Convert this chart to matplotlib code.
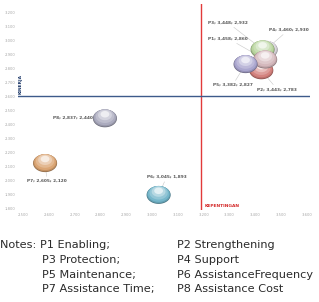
import matplotlib
matplotlib.use("Agg")
import matplotlib.pyplot as plt
import numpy as np
from matplotlib.transforms import ScaledTranslation
from matplotlib.colors import to_rgb

# ---- data ----
names = ["P1", "P2", "P3", "P4", "P5", "P6", "P7", "P8"]
kepentingan = [3.458, 3.443, 3.448, 3.460, 3.382, 3.045, 2.605, 2.837]
kinerja = [2.860, 2.783, 2.932, 2.930, 2.827, 1.893, 2.120, 2.440]
xticks = [2.5, 2.6, 2.7, 2.8, 2.9, 3.0, 3.1, 3.2, 3.3, 3.4, 3.5, 3.6]
yticks = [1.8, 1.9, 2.0, 2.1, 2.2, 2.3, 2.4, 2.5, 2.6, 2.7, 2.8, 2.9, 3.0, 3.1, 3.2]
notes_col1 = ["Notes: P1 Enabling;", "P3 Protection;", "P5 Maintenance;", "P7 Assistance Time;"]
notes_col2 = ["P2 Strengthening", "P4 Support", "P6 AssistanceFrequency", "P8 Assistance Cost"]

# ---- style ----
colors = {"P1": "#d2b4b8", "P2": "#d27c78", "P3": "#b5d39a", "P4": "#d9d4dc",
          "P5": "#a7a2cc", "P6": "#6fb3c8", "P7": "#d9a16e", "P8": "#a8a8bc"}
# label offsets in pixels (dx, dy) and alignment
lab_off = {"P1": (-17, 21, "right"), "P2": (16, -19, "center"), "P3": (-15, 27, "right"),
           "P4": (3, 20, "left"), "P5": (-13, -21, "center"), "P6": (8, 18, "center"),
           "P7": (2, -18, "center"), "P8": (-12, 1, "right")}
draw_order = ["P2", "P4", "P3", "P1", "P5", "P6", "P7", "P8"]

W, H = 319, 302
fig = plt.figure(figsize=(W / 100, H / 100), dpi=100)
ax_l, ax_r, ax_t, ax_b = 18, 310, 4, 210
ax = fig.add_axes([ax_l / W, 1 - ax_b / H, (ax_r - ax_l) / W, (ax_b - ax_t) / H])
xppu = 258.0
yppu = 140.0
ax.set_xlim(2.5, 2.5 + (ax_r - ax_l) / xppu)
ax.set_ylim(3.2 + 8 / yppu - (ax_b - ax_t) / yppu, 3.2 + 8 / yppu)
for s in ax.spines.values():
    s.set_visible(False)
ax.set_xticks(xticks)
ax.set_yticks(yticks)
ax.set_xticklabels([f"{v:,.3f}".replace(".", ",") for v in xticks])
ax.set_yticklabels([f"{v:,.3f}".replace(".", ",") for v in yticks])
ax.tick_params(length=0, labelsize=2.7, labelcolor="#a8a8a8", pad=2)
for lab in ax.get_xticklabels():
    lab.set_transform(lab.get_transform() + ScaledTranslation(5 / 100, 0, fig.dpi_scale_trans))

# mean lines
mx = np.mean(kepentingan)
my = np.mean(kinerja)
ax.axvline(mx, color="#e23a3a", lw=1.0, zorder=1)
ax.axhline(my, color="#3d5a8a", lw=1.0, zorder=1)
ax.text(mx + 0.012, ax.get_ylim()[0] + 0.015, "KEPENTINGAN", color="#d42a2a", fontsize=3.2,
        fontweight="bold", ha="left", va="bottom")
ax.text(2.509, my + 0.015, "KINERJA", color="#1f3a6a", fontsize=3.2, fontweight="bold",
        rotation=90, ha="center", va="bottom")

# ellipse marker
t = np.linspace(0, 2 * np.pi, 60)
ell = np.column_stack([np.cos(t), 0.74 * np.sin(t)])


def shade(c, f):
    r = np.array(to_rgb(c))
    if f >= 0:
        return tuple(r + (1 - r) * f)
    return tuple(r * (1 + f))


z = 3
for n in draw_order:
    i = names.index(n)
    x, y = kepentingan[i], kinerja[i]
    c = colors[n]
    layers = [(300, 0.0, -0.35), (280, 0.3, -0.1), (240, 0.8, 0.05), (175, 1.6, 0.25),
              (100, 2.4, 0.5), (40, 3.0, 0.8)]
    for s, dy, f in layers:
        tr = ax.transData + ScaledTranslation(0, dy / 72, fig.dpi_scale_trans)
        ax.scatter([x], [y], s=s, marker=ell, color=shade(c, f), edgecolors="none",
                   transform=tr, zorder=z)
        z += 0.01
    dx, dyp, ha = lab_off[n]
    lbl = f"{n}; {x:.3f}; {y:.3f}".replace(".", ",")
    ax.annotate(lbl, xy=(x, y), xytext=(dx * 0.72, dyp * 0.72), textcoords="offset points",
                fontsize=3.1, color="#555555", fontweight="bold", ha=ha, va="center",
                arrowprops=dict(arrowstyle="-", color="#c8c8c8", lw=0.4, shrinkA=0, shrinkB=4),
                zorder=2)

# notes
ys = [245, 260, 275, 289]
fs = 8.1
for k, (a, b) in enumerate(zip(notes_col1, notes_col2)):
    xa = 0 if k == 0 else 42
    fig.text(xa / W, 1 - ys[k] / H, a, fontsize=fs, color="#2a2a2a", ha="left", va="center")
    fig.text(177 / W, 1 - ys[k] / H, b, fontsize=fs, color="#2a2a2a", ha="left", va="center")

fig.savefig("out.png", dpi=100)
